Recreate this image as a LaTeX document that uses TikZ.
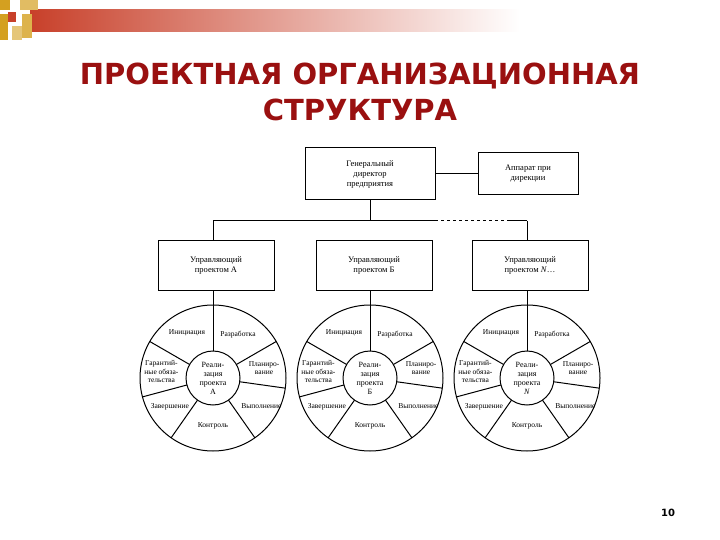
\documentclass[tikz,border=0pt]{standalone}
\usepackage{fontspec}
\setmainfont{Liberation Serif}
\newfontfamily\titlefont{DejaVu Sans}
\usetikzlibrary{calc}
\definecolor{tred}{HTML}{9A1010}
\definecolor{barred}{HTML}{C8402A}
\definecolor{sqor}{HTML}{D4A020}
\tikzset{box/.style={draw,line width=1pt,align=center,font=\fontsize{8.5}{10}\selectfont},
 lab/.style={align=center,font=\fontsize{7.5}{8.5}\selectfont,inner sep=0.5pt},
 ln/.style={line width=1pt}}
\newcommand\mywheel[3]{%
 \coordinate (#1) at (#2,378);
 \draw[ln] (#1) circle (73);
 \node[draw,ln,circle,minimum size=54pt,inner sep=0pt,align=center,font=\fontsize{8}{9}\selectfont] (#1c) at (#1) {Реали-\\зация\\проекта\\#3};
 \foreach \a in {90,30,-8,-55,-125,-165,150} {\draw[ln] ($(#1)+(-\a:27)$) -- ($(#1)+(-\a:73)$);}
 \node[lab] at ($(#1)+(-120:52)$) {Инициация};
 \node[lab] at ($(#1)+(-60:50)$) {Разработка};
 \node[lab] at ($(#1)+(-11:52)$) {Планиро-\\вание};
 \node[lab] at ($(#1)+(30:56)$) {Выполнение};
 \node[lab] at ($(#1)+(90:48)$) {Контроль};
 \node[lab] at ($(#1)+(146:52)$) {Завершение};
 \node[lab] at ($(#1)+(-173:52)$) {Гарантий-\\ные обяза-\\тельства};
}
\begin{document}
\begin{tikzpicture}[x=1pt,y=-1pt]
\useasboundingbox (0,0) rectangle (720,540);
\fill[white] (0,0) rectangle (720,540);
% decoration
\shade[left color=barred,right color=white] (30,10) rectangle (520,32);
\fill[sqor] (0,0) rectangle (10,10);
\fill[sqor!70] (20,0) rectangle (38,10);
\fill[sqor] (0,14) rectangle (8,40);
\fill[barred] (8,12) rectangle (16,22);
\fill[sqor!80] (22,14) rectangle (32,38);
\fill[sqor!60] (12,26) rectangle (22,40);
% title
\node[font=\titlefont\bfseries\fontsize{29}{36}\selectfont,text=tred,draw=black!80,line width=0pt,draw opacity=0,align=center] (title) at (360,92) {ПРОЕКТНАЯ ОРГАНИЗАЦИОННАЯ\\СТРУКТУРА};
% boxes
\node[box,minimum width=130pt,minimum height=52pt] (gd) at (370,174) {Генеральный\\директор\\предприятия};
\node[box,minimum width=100pt,minimum height=42pt] (ap) at (528,174) {Аппарат при\\дирекции};
\node[box,minimum width=116pt,minimum height=50pt] (ma) at (216,265) {Управляющий\\проектом А};
\node[box,minimum width=116pt,minimum height=50pt] (mb) at (374,265) {Управляющий\\проектом Б};
\node[box,minimum width=116pt,minimum height=50pt] (mn) at (530,265) {Управляющий\\проектом \textit{N}\dots};
\draw[ln] (gd) -- (ap);
\coordinate (hA) at (213,221); \coordinate (hB) at (370,221);
\coordinate (hD) at (435,221); \coordinate (hE) at (510,221); \coordinate (hN) at (527,221);
\draw[ln] (gd.south) -- (hB);
\draw[ln] (hA) -- (hD); \draw[ln,dashed] (hD) -- (hE); \draw[ln] (hE) -- (hN);
\draw[ln] (hA) -- (hA|-ma.north);
\draw[ln] (hN) -- (hN|-mn.north);
\mywheel{wa}{213}{А}
\mywheel{wb}{370}{Б}
\mywheel{wn}{527}{\textit{N}}
\draw[ln] (ma.south-|wa) -- (wac);
\draw[ln] (mb.south-|wb) -- (wbc);
\draw[ln] (mn.south-|wn) -- (wnc);
\node[font=\titlefont\bfseries\fontsize{10}{12}\selectfont] (pg) at (668,513) {10};
\end{tikzpicture}
\end{document}
